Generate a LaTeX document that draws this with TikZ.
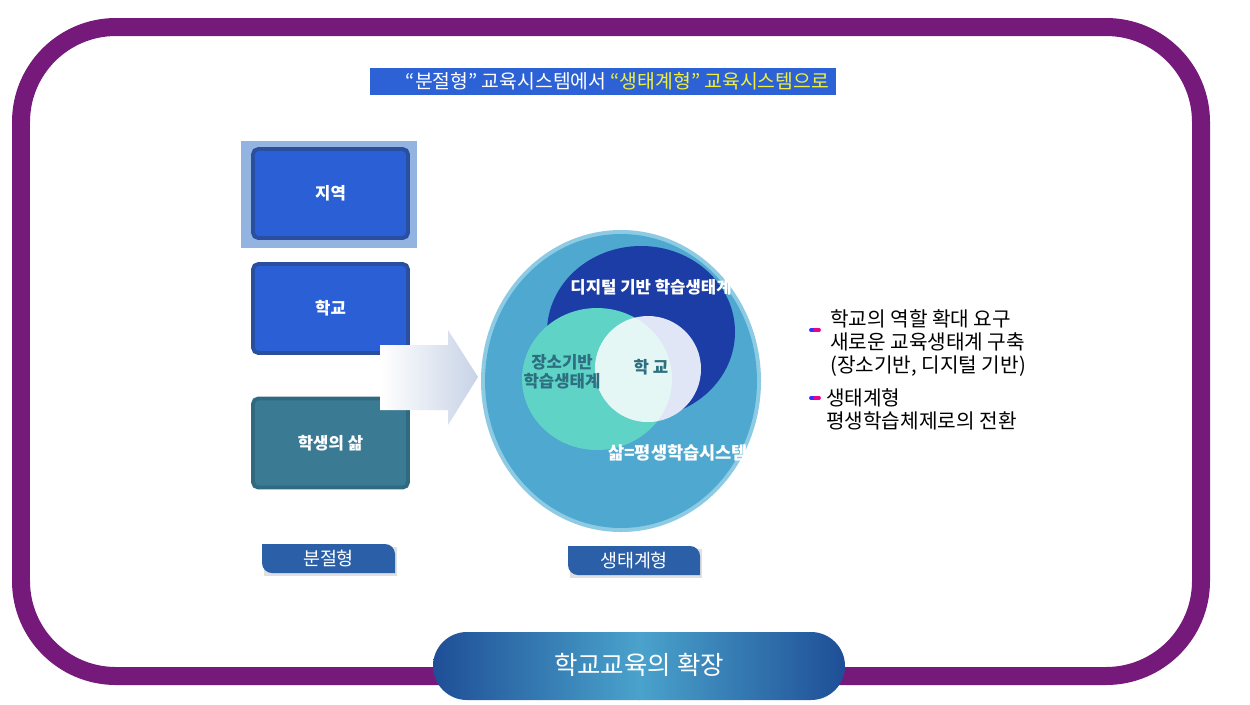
\documentclass[tikz,border=0pt]{standalone}
\usepackage{fontspec}
\setmainfont{Noto Sans CJK KR}
\usetikzlibrary{shapes.geometric}
\definecolor{purp}{HTML}{751A7A}
\definecolor{tblue}{HTML}{2C62D6}
\definecolor{bxblue}{HTML}{2B5FD5}
\definecolor{bxline}{HTML}{2A4F9F}
\definecolor{bxteal}{HTML}{3A7A93}
\definecolor{bxtline}{HTML}{2F6A80}
\definecolor{bigc}{HTML}{4EA8CF}
\definecolor{bigl}{HTML}{8CCBE3}
\definecolor{darkc}{HTML}{1C3DA5}
\definecolor{tealc}{HTML}{5FD3C6}
\definecolor{tabc}{HTML}{2B5FA8}
\definecolor{ttxt}{HTML}{2D6E80}
\definecolor{yel}{HTML}{F2F03A}
\definecolor{pillD}{HTML}{1E4E96}
\definecolor{pillL}{HTML}{4AA3CC}
\definecolor{outerb}{HTML}{93B3E0}
\definecolor{arrc}{HTML}{C8D3E6}
\definecolor{lav}{HTML}{E0E6F5}
\definecolor{pale}{HTML}{E4F7F5}
\begin{document}
\begin{tikzpicture}[x=0.02cm,y=-0.02cm,
  box/.style={draw=bxline,line width=2.2pt,fill=bxblue,rounded corners=3pt,minimum width=3.1cm,minimum height=1.78cm,text=white,font=\bfseries\fontsize{9.5}{11}\selectfont},
  tabtxt/.style={text=white,font=\fontsize{10.5}{12}\selectfont},
  bul/.style={anchor=west,align=left,font=\fontsize{11.5}{13.2}\selectfont,text=black}]
\useasboundingbox (0,0) rectangle (1250,704);
\fill[white] (0,0) rectangle (1250,704);
\draw[purp,line width=0.36cm,rounded corners=1.9cm] (21,27) rectangle (1201,676);
% title
\node[fill=tblue,minimum width=9.32cm,minimum height=0.54cm,inner sep=0pt,font=\fontsize{11}{12}\selectfont,text=white] (title) at (603,81.5) {\hspace*{1.5em}“분절형” 교육시스템에서 \textcolor{yel}{“생태계형” 교육시스템으로}};
% boxes
\fill[outerb] (241,141) rectangle (417,248);
\node[box] (jiyeok) at (330.5,193.5) {지역};
\node[box] (school) at (330.5,308.5) {학교};
\node[box,fill=bxteal,draw=bxtline] (life) at (330.5,443) {학생의 삶};
% arrow
\shade[left color=white,right color=arrc] (380,345) -- (448,345) -- (448,330) -- (478,377) -- (448,425) -- (448,410) -- (380,410) -- cycle;
% circles
\fill[bigl] (621,381) ellipse [x radius=140,y radius=151];
\node[ellipse,fill=bigc,minimum width=5.44cm,minimum height=5.88cm,inner sep=0pt] (big) at (621,381) {};
\fill[darkc] (641,332) ellipse [x radius=94,y radius=86];
\node[ellipse,fill=tealc,minimum width=3cm,minimum height=2.84cm,inner sep=0pt] (teal) at (597,379) {};
\fill[lav] (648,369) circle [radius=53];
\begin{scope}
\clip (597,379) ellipse [x radius=75,y radius=71];
\fill[pale] (648,369) circle [radius=53];
\end{scope}
\node[text=white,font=\bfseries\fontsize{9.5}{11}\selectfont] (dig) at (651,287) {디지털 기반 학습생태계};
\node[text=ttxt,align=center,font=\bfseries\fontsize{9.5}{11}\selectfont] (place) at (562,372) {장소기반\\학습생태계};
\node[text=ttxt,font=\bfseries\fontsize{9.5}{11}\selectfont] (hak) at (651,367) {학 교};
\node[text=white,font=\bfseries\fontsize{10}{12}\selectfont] (sam) at (678,453) {삶=평생학습시스템};
% bullets
\draw[line width=2.2pt,line cap=round,blue!80] (811,330) -- (815,330);
\draw[line width=2.2pt,line cap=round,magenta] (815,330) -- (819,330);
\draw[line width=2.2pt,line cap=round,blue!80] (811,398) -- (815,398);
\draw[line width=2.2pt,line cap=round,magenta] (815,398) -- (819,398);
\node[bul] (b1) at (824,343) {학교의 역할 확대 요구\\새로운 교육생태계 구축\\(장소기반, 디지털 기반)};
\node[bul] (b2) at (820,409) {생태계형\\평생학습체제로의 전환};
% tabs
\fill[black!12] (264,547) rectangle (397,576);
\fill[tabc] (262,544) -- (385,544) arc[start angle=270,end angle=360,radius=10] -- (395,573) -- (272,573) arc[start angle=90,end angle=180,radius=10] -- cycle;
\node[tabtxt] (t1) at (328.5,558.5) {분절형};
\fill[black!12] (570,549) rectangle (702,578);
\fill[tabc] (568,546) -- (690,546) arc[start angle=270,end angle=360,radius=10] -- (700,575) -- (578,575) arc[start angle=90,end angle=180,radius=10] -- cycle;
\node[tabtxt] (t2) at (634,560.5) {생태계형};
% pill
\begin{scope}
\clip[rounded corners=0.68cm] (433,632) rectangle (845,700);
\shade[left color=pillD,right color=pillL] (432,631) rectangle (640,701);
\shade[left color=pillL,right color=pillD] (639,631) rectangle (846,701);
\end{scope}
\node[text=white,font=\fontsize{14.5}{16}\selectfont] (pill) at (639,665) {학교교육의 확장};
\end{tikzpicture}
\end{document}
